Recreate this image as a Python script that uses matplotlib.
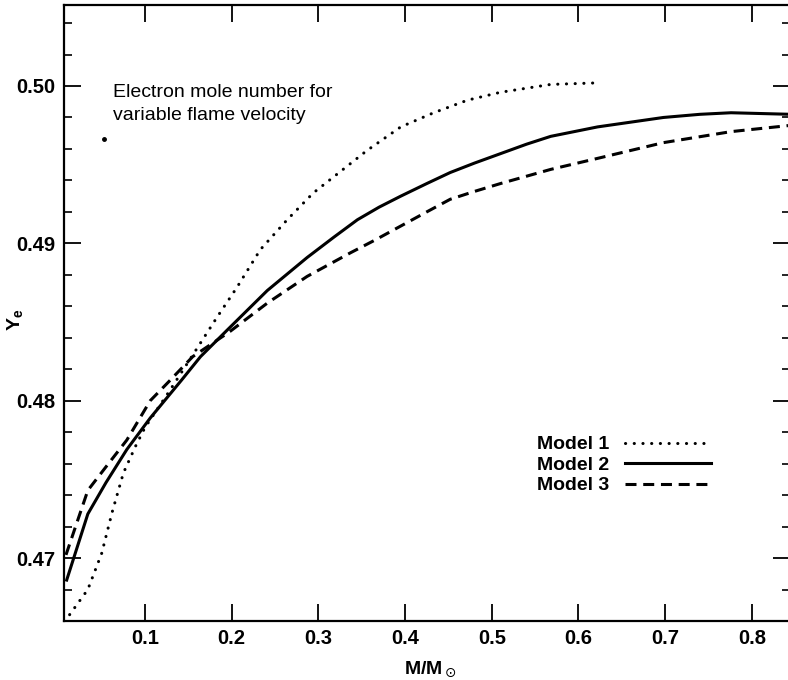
import matplotlib
matplotlib.use("Agg")
import matplotlib.pyplot as plt

# --- data ---
m1_x = [0.013, 0.034, 0.050, 0.062, 0.075, 0.089, 0.100, 0.128, 0.155, 0.183, 0.206, 0.233,
        0.264, 0.294, 0.317, 0.356, 0.395, 0.433, 0.472, 0.510, 0.568, 0.623]
m1_y = [0.4664, 0.4680, 0.4703, 0.4729, 0.4754, 0.4771, 0.4783, 0.4806, 0.4829, 0.4853, 0.4872, 0.4896,
        0.4915, 0.4932, 0.4942, 0.4959, 0.4974, 0.4983, 0.4991, 0.4996, 0.5001, 0.5002]

m2_x = [0.0096, 0.034, 0.055, 0.079, 0.106, 0.142, 0.164, 0.195, 0.241, 0.287, 0.318, 0.345, 0.370,
        0.395, 0.425, 0.452, 0.480, 0.510, 0.540, 0.568, 0.622, 0.660, 0.698, 0.740, 0.776, 0.845]
m2_y = [0.4686, 0.4728, 0.4748, 0.4769, 0.4789, 0.4813, 0.4828, 0.4845, 0.4870, 0.4891, 0.4904, 0.4915, 0.4923,
        0.4930, 0.4938, 0.4945, 0.4951, 0.4957, 0.4963, 0.4968, 0.4974, 0.4977, 0.4980, 0.4982, 0.4983, 0.4982]

m3_x = [0.0088, 0.034, 0.055, 0.079, 0.106, 0.129, 0.155, 0.198, 0.241, 0.287, 0.337, 0.365,
        0.395, 0.425, 0.452, 0.480, 0.510, 0.568, 0.622, 0.660, 0.698, 0.776, 0.845]
m3_y = [0.4702, 0.4743, 0.4758, 0.4775, 0.4800, 0.4813, 0.4828, 0.4844, 0.4862, 0.4879, 0.4894, 0.4902,
        0.4911, 0.4920, 0.4928, 0.4933, 0.4938, 0.4947, 0.4954, 0.4959, 0.4964, 0.4971, 0.4975]

labels = ["Model 1", "Model 2", "Model 3"]
x_ticks = [0.1, 0.2, 0.3, 0.4, 0.5, 0.6, 0.7, 0.8]
y_ticks = [0.47, 0.48, 0.49, 0.50]
y_tick_labels = ["0.47", "0.48", "0.49", "0.50"]
y_minor = [0.468, 0.472, 0.474, 0.476, 0.478, 0.482, 0.484, 0.486, 0.488,
           0.492, 0.494, 0.496, 0.498, 0.502, 0.504]
stray_dot = (0.0527, 0.4966)

plt.rcParams['font.family'] = ['Liberation Sans', 'DejaVu Sans']

fig = plt.figure(figsize=(7.88, 6.8), dpi=100)
ax = fig.add_axes([0.0812, 0.0868, 0.921, 0.9059])

ax.plot(m1_x, m1_y, color='black', lw=2.2, linestyle=(0, (0.05, 2.8)),
        dash_capstyle='round', label=labels[0])
ax.plot(m2_x, m2_y, color='black', lw=2.2, label=labels[1])
ax.plot(m3_x, m3_y, color='black', lw=2.2, linestyle=(0, (3.6, 2.2)), label=labels[2])
ax.plot([stray_dot[0]], [stray_dot[1]], 'o', color='black', ms=2.5)

ax.set_xlim(0.0065, 0.8437)
ax.set_ylim(0.4660, 0.50515)

ax.set_xticks(x_ticks)
ax.set_xticklabels([f"{v:.1f}" for v in x_ticks])
ax.set_yticks(y_ticks)
ax.set_yticklabels(y_tick_labels)
ax.set_yticks(y_minor, minor=True)

ax.tick_params(axis='both', which='major', direction='in', length=12, width=1.3,
               labelsize=14.5, pad=6, top=True, right=True)
ax.tick_params(axis='y', which='minor', direction='in', length=6, width=1.2,
               left=True, right=True)
for lab in ax.get_xticklabels() + ax.get_yticklabels():
    lab.set_fontweight('bold')

for s in ax.spines.values():
    s.set_linewidth(1.6)

ax.set_xlabel(r"M/M$_\odot$", fontsize=14, fontweight='bold')
ax.xaxis.set_label_coords(0.505, -0.062)
ax.set_ylabel(r"Y$_\mathregular{e}$", fontsize=14, fontweight='bold')
ax.yaxis.set_label_coords(-0.052, 0.489)

ax.text(0.063, 0.49888, "Electron mole number for\nvariable flame velocity",
        fontsize=14, ha='left', va='center', linespacing=1.45)

leg = ax.legend(loc='center left', bbox_to_anchor=(0.652, 0.253), frameon=False,
                markerfirst=False, handlelength=4.4, handletextpad=0.8,
                labelspacing=0.15, borderpad=0, borderaxespad=0,
                prop={'size': 14, 'weight': 'bold'})

fig.savefig("out.png", dpi=100)
